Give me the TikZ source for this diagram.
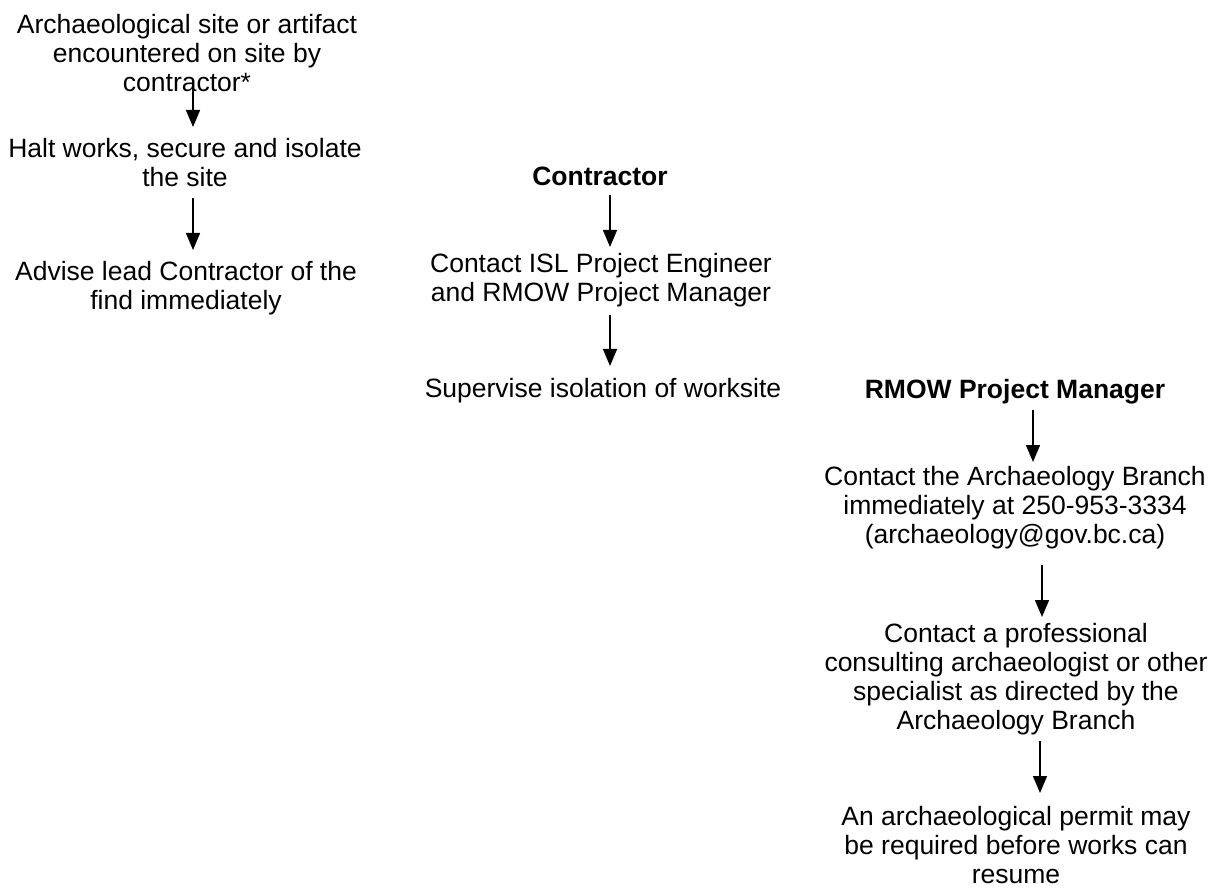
\documentclass[tikz,border=0pt]{standalone}
\usepackage{fontspec}
\setmainfont{Liberation Sans}
\usetikzlibrary{arrows.meta,calc}
\tikzset{
  txt/.style={anchor=north, align=center, inner sep=0pt, font=\fontsize{26.5}{29}\selectfont},
  hdr/.style={txt, font=\fontsize{26.5}{29}\selectfont\bfseries},
  arr/.style={draw, line width=1.4pt, -{Triangle[length=17pt,width=14pt]}}
}
\begin{document}
\begin{tikzpicture}[x=1pt,y=-1pt]
\useasboundingbox (0,0) rectangle (1221,890);
% column 1
\node[txt] (a) at (187,14) {Archaeological site or artifact\\encountered on site by\\contractor*};
\node[txt] (b) at (185,138) {Halt works, secure and isolate\\the site};
\node[txt] (c) at (186,261) {Advise lead Contractor of the\\find immediately};
% column 2
\node[hdr] (k) at (600,167) {Contractor};
\node[txt] (d) at (601,253) {Contact ISL Project Engineer\\and RMOW Project Manager};
\node[txt] (e) at (603,378) {Supervise isolation of worksite};
% column 3
\node[hdr] (r) at (1015,379) {RMOW Project Manager};
\node[txt] (f) at (1015,466) {Contact the Archaeology Branch\\immediately at 250-953-3334\\(archaeology@gov.bc.ca)};
\node[txt] (g) at (1016,623) {Contact a professional\\consulting archaeologist or other\\specialist as directed by the\\Archaeology Branch};
\node[txt] (h) at (1016,806) {An archaeological permit may\\be required before works can\\resume};
% arrows
\draw[arr] ($(a.north)+(6,69)$) -- ($(b.north)+(8,-11)$);
\draw[arr] ($(b.north)+(8,60)$) -- ($(c.north)+(7,-11)$);
\draw[arr] ($(k.north)+(10,28)$) -- ($(d.north)+(9,-6)$);
\draw[arr] ($(d.north)+(9,62)$) -- ($(e.north)+(7,-12)$);
\draw[arr] ($(r.north)+(18,31)$) -- ($(f.north)+(18,-4)$);
\draw[arr] ($(f.north)+(27,99)$) -- ($(g.north)+(26,-6)$);
\draw[arr] ($(g.north)+(24,118)$) -- ($(h.north)+(24,-13)$);
\end{tikzpicture}
\end{document}
